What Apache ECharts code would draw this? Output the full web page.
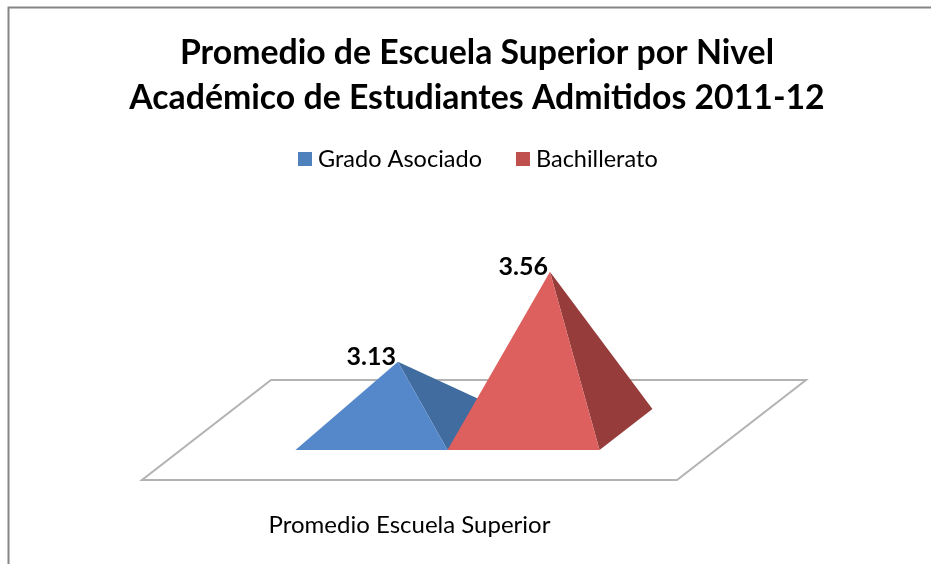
<!DOCTYPE html>
<html><head><meta charset="utf-8">
<style>html,body{margin:0;padding:0;background:#fff}#c{width:931px;height:564px}</style>
<script src="https://cdn.jsdelivr.net/npm/echarts@6/dist/echarts.min.js"></script>
</head><body><div id="c"></div>
<script>
const titleLines = ['Promedio de Escuela Superior por Nivel', 'Académico de Estudiantes Admitidos 2011-12'];
const categories = ['Promedio Escuela Superior'];
const seriesNames = ['Grado Asociado', 'Bachillerato'];
const gradoAsociado = [3.13];
const bachillerato = [3.56];
const frontColors = ['#5588CA', '#DD605F'];
const sideColors = ['#416C9F', '#963D3C'];
const legendColors = ['#4F81BD', '#C0504D'];

const chart = echarts.init(document.getElementById('c'), null, {renderer: 'canvas'});

const DEPTH_X = 129, DEPTH_Y = 100, BASE_DEPTH = 0.41, FRONT_GAP = 30;

function floorItem(params, api) {
  const o = api.coord([0, api.value(1)]);
  const w = api.size([1, 0])[0];
  const l = o[0] - w / 2, r = o[0] + w / 2, y = o[1];
  return {
    type: 'polygon',
    shape: {points: [[l, y], [r, y], [r + DEPTH_X, y - DEPTH_Y], [l + DEPTH_X, y - DEPTH_Y]]},
    style: {fill: '#fff', stroke: '#B3B3B3', lineWidth: 2},
    silent: true
  };
}
function pyramidItem(idx) {
  return function (params, api) {
    const c = api.coord([0, api.value(1)]);
    const base = api.coord([0, yMin]);
    const w = api.size([1, 0])[0];
    const half = w * 0.1421;
    const frontY = base[1] - FRONT_GAP;
    const cx = c[0] + (idx === 0 ? -half : half) + 38;
    const dx = DEPTH_X * BASE_DEPTH, dy = DEPTH_Y * BASE_DEPTH;
    const fl = [cx - half, frontY], fr = [cx + half, frontY], br = [cx + half + dx, frontY - dy];
    const apex = [cx + dx / 2, c[1]];
    return {
      type: 'group',
      children: [
        {type: 'polygon', shape: {points: [fr, br, apex]}, style: {fill: sideColors[idx]}},
        {type: 'polygon', shape: {points: [fl, fr, apex]}, style: {fill: frontColors[idx]}},
        {type: 'text', style: {text: api.value(1).toFixed(2), x: apex[0] - 2, y: apex[1] + 8,
          textAlign: 'right', textVerticalAlign: 'bottom', font: 'bold 25px Lato', fill: '#000'}}
      ]
    };
  };
}
const yMin = 2.565, yMax = 3.6;
const row = v => [[0, v[0]]];
chart.setOption({
  animation: false,
  backgroundColor: '#fff',
  title: {
    text: titleLines.join('\n'), left: 472, top: 26, textAlign: 'center',
    textStyle: {fontFamily: 'Lato', fontWeight: 'bold', fontSize: 33.8, lineHeight: 45, color: '#000'}
  },
  legend: {
    top: 142, left: 293, itemWidth: 14, itemHeight: 14, itemGap: 34,
    icon: 'rect',
    data: seriesNames.map((n, i) => ({name: n, itemStyle: {color: legendColors[i]}})),
    textStyle: {fontFamily: 'Lato', fontSize: 23.5, color: '#000', padding: [0, 0, 0, 1]}
  },
  grid: {left: 142, width: 535, bottom: 84, height: 216.6},
  xAxis: {type: 'category', data: categories, axisLine: {show: false}, axisTick: {show: false},
    axisLabel: {fontFamily: 'Lato', fontSize: 24, color: '#000', margin: 33}},
  yAxis: {type: 'value', min: yMin, max: yMax, show: false},
  graphic: [{type: 'polyline', silent: true, z: 0,
    shape: {points: [[8.5, 564], [8.5, 7.5], [931, 7.5]]}, style: {stroke: '#868686', lineWidth: 2, fill: 'none'}}],
  series: [
    {type: 'custom', name: '_floor', renderItem: floorItem, data: [[0, yMin]], z: 1, silent: true, legendHoverLink: false},
    {type: 'custom', name: seriesNames[0], renderItem: pyramidItem(0), data: row(gradoAsociado), encode: {x: 0, y: 1}, z: 2, itemStyle: {color: legendColors[0]}},
    {type: 'custom', name: seriesNames[1], renderItem: pyramidItem(1), data: row(bachillerato), encode: {x: 0, y: 1}, z: 3, itemStyle: {color: legendColors[1]}}
  ]
});
</script></body></html>
